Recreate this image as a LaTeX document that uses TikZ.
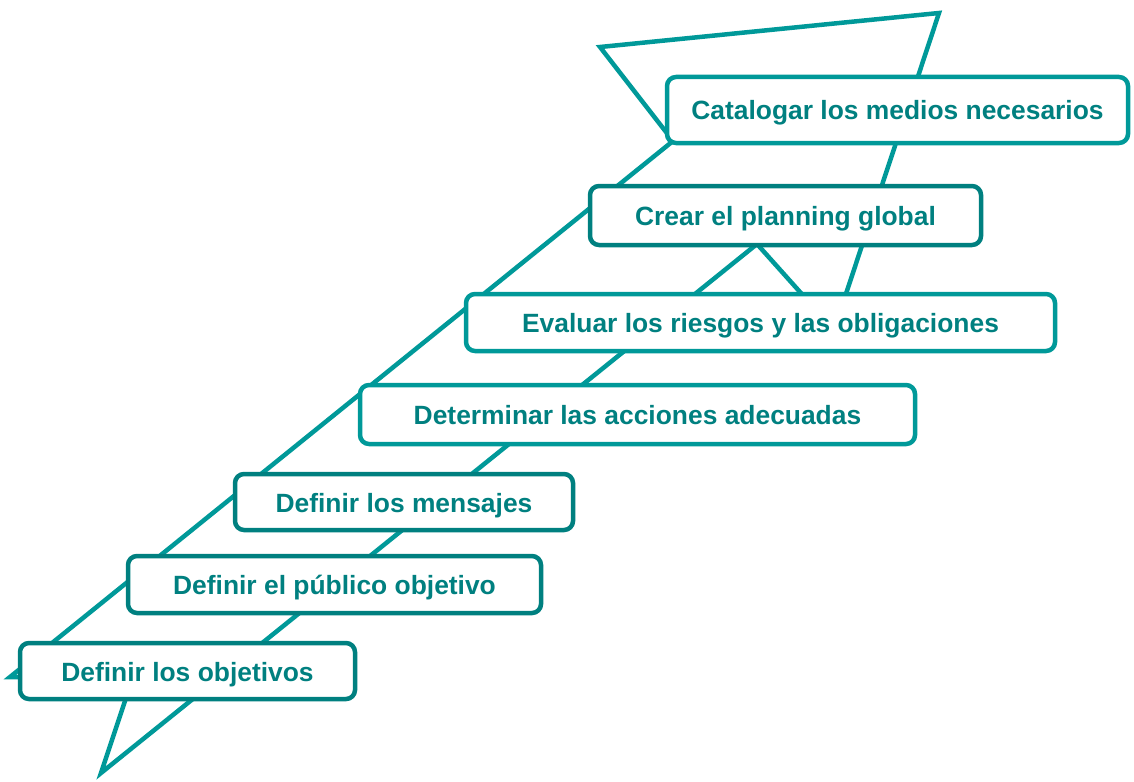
\documentclass[tikz,border=0pt]{standalone}
\usepackage{fontspec}
\setmainfont{Liberation Sans}
\definecolor{tealclaro}{RGB}{0,153,153}
\definecolor{tealoscuro}{RGB}{0,128,128}
\tikzset{
  flecha/.style = {draw=tealclaro, line width=4.5pt, line join=miter},
  etapa/.style  = {shape=rectangle, rounded corners=9pt, draw=tealoscuro,
                   line width=4.5pt, fill=white,
                   text height=25pt, text depth=5pt,
                   text=tealoscuro, font=\fontsize{26.4}{30}\selectfont\bfseries},
  clara/.style  = {etapa, draw=tealclaro}
}
\begin{document}
\begin{tikzpicture}[x=1pt, y=-1pt]
  \useasboundingbox (0,0) rectangle (1134,781);

  \draw[flecha] (10,677) -- (673,141) -- (600,47) -- (939,13) -- (834,330)
    -- (757,244) -- (101,773) -- (133,677) -- cycle;

  \node[clara, minimum width=461pt, minimum height=66pt] (catalogar) at (897.5,110)
    {Catalogar los medios necesarios};
  \node[etapa, minimum width=391pt, minimum height=59pt] (crear) at (785.5,215.5)
    {Crear el planning global};
  \node[clara, minimum width=589pt, minimum height=57pt] (evaluar) at (760.5,322.5)
    {Evaluar los riesgos y las obligaciones};
  \node[clara, minimum width=555pt, minimum height=59pt] (determinar) at (637.5,414.5)
    {Determinar las acciones adecuadas};
  \node[etapa, minimum width=338pt, minimum height=56pt] (mensajes) at (404,502)
    {Definir los mensajes};
  \node[etapa, minimum width=413pt, minimum height=57pt] (publico) at (334.5,584.5)
    {Definir el público objetivo};
  \node[etapa, minimum width=335pt, minimum height=56pt] (objetivos) at (187.5,671)
    {Definir los objetivos};
\end{tikzpicture}
\end{document}
